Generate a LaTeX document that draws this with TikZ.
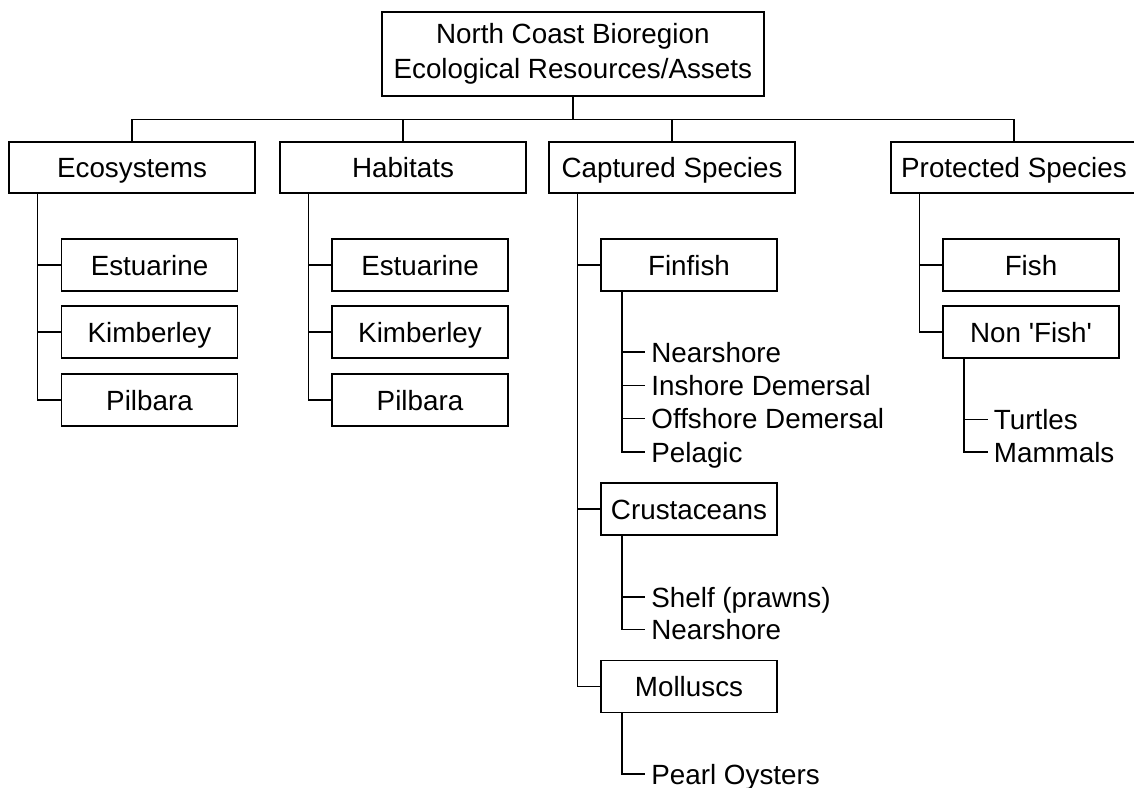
\documentclass[tikz,border=0pt]{standalone}
\usepackage{fontspec}
\setmainfont{Liberation Sans}
\usepackage{tikz}
\usetikzlibrary{positioning}
\tikzstyle{rootbox} = [rectangle, draw=black, line width=0.85pt, align=center, minimum width=191pt, minimum height=42pt]
\tikzstyle{groupbox} = [rectangle, draw=black, line width=0.85pt, minimum width=123.25pt, minimum height=25.5pt, text height=10pt, text depth=0pt]
\tikzstyle{itembox} = [rectangle, draw=black, line width=0.85pt, minimum width=88pt, minimum height=26pt, text height=10pt, text depth=0pt]
\tikzstyle{leaf} = [anchor=west, inner xsep=3pt, inner ysep=0pt, text height=10pt, text depth=0pt]
\tikzstyle{link} = [line width=0.85pt]

\begin{document}
\begin{tikzpicture}[x=0.5pt, y=-0.5pt, font=\fontsize{13.9}{17.5}\selectfont]
\useasboundingbox (0,0) rectangle (1134,787);
\clip (0,0) rectangle (1134,787);

% top of the tree
\node (root) [rootbox] at (572.8,54) {North Coast Bioregion\\Ecological Resources/Assets};

\node (eco)  [groupbox] at (132,167.7)  {Ecosystems};
\node (hab)  [groupbox] at (403,167.7)  {Habitats};
\node (cap)  [groupbox] at (672,167.7)  {Captured Species};
\node (prot) [groupbox] at (1014,167.7) {Protected Species};

% boxes under each group
\node (ecoE) [itembox] at (149.5,265) {Estuarine};
\node (ecoK) [itembox] at (149.5,332) {Kimberley};
\node (ecoP) [itembox] at (149.5,400) {Pilbara};
\node (habE) [itembox] at (420,265) {Estuarine};
\node (habK) [itembox] at (420,332) {Kimberley};
\node (habP) [itembox] at (420,400) {Pilbara};
\node (fin)  [itembox] at (689,265)   {Finfish};
\node (crus) [itembox] at (689,509)   {Crustaceans};
\node (moll) [itembox] at (689,686.5) {Molluscs};
\node (fish) [itembox] at (1031,265) {Fish};
\node (nonf) [itembox] at (1031,332) {Non \textquotesingle Fish\textquotesingle};

% plain text leaves
\node (finN) [leaf] at (645,352)   {Nearshore};
\node (finI) [leaf] at (645,385.5) {Inshore Demersal};
\node (finO) [leaf] at (645,418.5) {Offshore Demersal};
\node (finP) [leaf] at (645,452)   {Pelagic};
\node (crusS) [leaf] at (645,597)   {Shelf (prawns)};
\node (crusN) [leaf] at (645,629.5) {Nearshore};
\node (mollP) [leaf] at (645,774)   {Pearl Oysters};
\node (nonfT) [leaf] at (987.5,419.5) {Turtles};
\node (nonfM) [leaf] at (987.5,452)   {Mammals};

\foreach \c in {eco,hab,cap,prot}
  \draw [link] (root.south) -- ++(0,22.5) -| (\c.north);

\foreach \p/\c in {eco/ecoE,eco/ecoK,eco/ecoP,hab/habE,hab/habK,hab/habP,cap/fin,cap/crus,cap/moll,prot/fish,prot/nonf}
  \draw [link] ([xshift=14.75pt]\p.south west) |- (\c.west);

\foreach \p/\c in {fin/finN,fin/finI,fin/finO,fin/finP,crus/crusS,crus/crusN,moll/mollP,nonf/nonfT,nonf/nonfM}
  \draw [link] ([xshift=10.8pt]\p.south west) |- (\c.west);
\end{tikzpicture}
\end{document}
